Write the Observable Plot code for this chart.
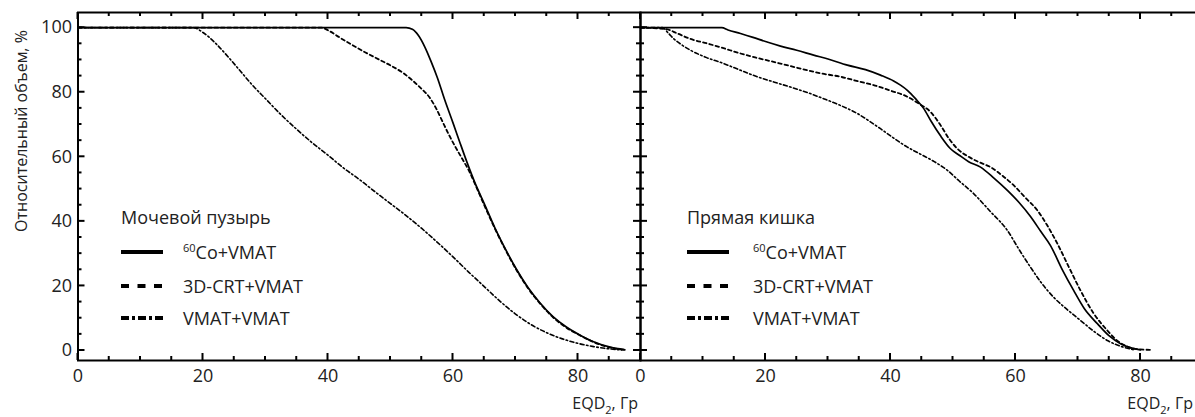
<!DOCTYPE html>
<html><head><meta charset="utf-8">
<script src="https://cdn.jsdelivr.net/npm/d3@7"></script>
<script src="https://cdn.jsdelivr.net/npm/@observablehq/plot@0.6"></script>
<style>
body{margin:0;background:#fff;overflow:hidden}
#wrap{position:relative;width:1195px;height:417px;overflow:hidden;font-family:"Open Sans",sans-serif;color:#222}
.abs{position:absolute;white-space:nowrap;line-height:20px}
.leg{font-size:18px}
sup{font-size:11px;vertical-align:0;position:relative;top:-7px}
sub{font-size:11px;vertical-align:0;position:relative;top:5px}
</style></head><body><div id="wrap"></div>
<script>
// ---- data ----
const seriesNames = ["60Co+VMAT", "3D-CRT+VMAT", "VMAT+VMAT"];
const panelTitles = ["Мочевой пузырь", "Прямая кишка"];
const xTickLabels = [0, 20, 40, 60, 80];
const yTickLabels = [0, 20, 40, 60, 80, 100];

const bladderCo = [[0,100],[52.5,100],[53.5,99.5],[54.5,97.5],[55.5,94],[56.5,89.5],[57.5,84.5],[58.7,77.5],[60,70.5],[61,65],[62.2,58.5],[63.5,52],[65,45.5],[66.7,38],[68.5,31],[70.2,25],[72,19.5],[73.9,14.8],[76,10.5],[78.2,7.2],[80.5,4.6],[82.5,2.7],[85,1.1],[87.5,0.2]];
const bladderCRT = [[0,100],[39,100],[40,99.2],[42,96.8],[44,94.5],[46,92.3],[48.3,90],[50,88.3],[52,86],[53.6,83.5],[55,81],[56.2,78.5],[57.3,75],[58.3,71],[59.3,67],[60.4,63],[61.5,59.3],[62.6,55.5],[63.6,51.2],[65,45],[66.7,37.8],[68.5,30.8],[70.2,24.8],[72,19.3],[73.9,14.6],[76,10.3],[78.2,7],[80.5,4.5],[82.5,2.6],[85,1],[87.5,0.2]];
const bladderVMAT = [[0,100],[18.5,100],[20,98.5],[22,95.2],[24,91],[26,86.5],[28,82],[30,78],[32.5,73],[35,68.5],[37.5,64.3],[40,60.5],[42.5,56.5],[45,53],[47.5,49.2],[50,45.5],[52.5,41.8],[55,37.8],[57.5,33.5],[60,29],[62.5,24.3],[65,19.8],[67.5,15.3],[70,11.3],[72.5,8],[75,5.5],[77.5,3.6],[80,2.2],[82.5,1.2],[85,0.5],[87,0.2]];

const rectumCo = [[0,100],[13,100],[14,99.3],[16,98.2],[18,97],[20,95.7],[22.4,94.3],[25,93],[27.7,91.5],[30,90.3],[33.1,88.4],[36,87],[38.4,85.3],[40.5,83.5],[41.6,82.2],[42.7,80.6],[44,78],[45.3,75],[46.5,71],[48,66.5],[49.6,62.5],[51,60.5],[52.5,58.5],[54.4,56.8],[56.5,53.5],[58.7,49.6],[60.5,46],[62.4,41.5],[64,37],[65.6,32.5],[67.5,25],[69.3,18.6],[71,13],[73.1,8.3],[75,4.5],[76.8,2.1],[78.5,0.8],[80,0.2]];
const rectumCRT = [[0,100],[4,99.6],[5.9,98.2],[8,96.5],[10.7,95.1],[13,93.8],[16,92],[18.5,90.7],[21.3,89.4],[24,88.1],[26.7,86.8],[29,85.8],[32,84.8],[35,83.3],[37.3,82.2],[40,80.5],[42.7,78.6],[44.5,76.5],[46.4,73.9],[48,69.8],[49.4,65.5],[50.7,62.5],[52.5,60],[54,58.5],[56,56.8],[58,54],[59.7,51.2],[61.5,47.5],[63.5,43.4],[65,39],[66.7,33.1],[68.5,26],[70.4,18.6],[72.5,11.5],[74.7,6.2],[76.3,3],[77.9,1.2],[79.5,0.4],[81.6,0.2]];
const rectumVMAT = [[0,100],[3.5,100],[4.5,98.2],[5.3,96.6],[6.5,94.8],[8,93],[10.5,90.8],[13.3,88.9],[16,86.8],[18.7,84.8],[21.3,83.2],[24,81.6],[26.7,79.9],[29.3,78],[32,75.9],[34.7,73.4],[36.5,71.2],[38.4,68.7],[40.5,65.8],[42.7,63],[45,60.6],[47,58.5],[49.1,55.8],[51,52.5],[53.3,48.6],[56,43],[58.7,37.2],[60.5,31.5],[62.4,25.8],[64.2,20.8],[66.1,16.5],[68.2,12.8],[70.4,9.3],[72.5,6],[74.7,3.1],[77,1.2],[79,0.2]];

// ---- layout ----
const xDom = [0, 90], yDom = [-3.1, 104.7];
const H = 417, MT = 12, MB = 57;
const styles = [
  {strokeDasharray: null, strokeWidth: 1.7},
  {strokeDasharray: "3.5,3", strokeWidth: 1.8},
  {strokeDasharray: "4,2.5,1.5,2.5", strokeWidth: 1.6}
];

function panel(curves, {width, marginLeft, showY, bothSide}) {
  const lines = [2, 1, 0].map(i => Plot.line(curves[i], {
    x: d => d[0], y: d => d[1], stroke: "#000", curve: "monotone-x",
    strokeWidth: styles[i].strokeWidth, strokeDasharray: styles[i].strokeDasharray
  }));
  const p = Plot.plot({
    width, height: H, marginLeft, marginRight: 0, marginTop: MT, marginBottom: MB,
    style: {background: "transparent", fontSize: "18px", fontFamily: "Open Sans", color: "#222", overflow: "visible"},
    x: {domain: xDom, ticks: xTickLabels.length, tickSize: 0, tickPadding: 9, label: null},
    y: showY ? {domain: yDom, ticks: yTickLabels.length - 1, tickSize: 0, tickPadding: 6, label: null}
             : {domain: yDom, axis: null},
    marks: [
      Plot.frame({stroke: "#000", strokeWidth: 2}),
      ...lines
    ]
  });
  // inward minor/major ticks, positioned through the plot's own scales
  const sx = p.scale("x"), sy = p.scale("y");
  const len = v => (v % 20 === 0 ? 7 : 4);
  const g = d3.select(p).append("g").attr("stroke", "#000").attr("stroke-width", 2);
  const yb = sy.apply(yDom[0]), yt = sy.apply(yDom[1]), x0 = sx.apply(0);
  for (const v of d3.range(0, 91, 5)) {
    const x = sx.apply(v);
    g.append("line").attr("x1", x).attr("x2", x).attr("y1", yb).attr("y2", yb - len(v));
    g.append("line").attr("x1", x).attr("x2", x).attr("y1", yt).attr("y2", yt + len(v));
  }
  for (const v of d3.range(0, 101, 5)) {
    const y = sy.apply(v);
    g.append("line").attr("x1", bothSide ? x0 - len(v) : x0).attr("x2", x0 + len(v)).attr("y1", y).attr("y2", y);
  }
  return p;
}

const wrap = document.getElementById("wrap");
const left = panel([bladderCo, bladderCRT, bladderVMAT], {width: 640, marginLeft: 77.5, showY: true, bothSide: false});
left.style.position = "absolute"; left.style.left = "0px"; left.style.top = "0px";
wrap.appendChild(left);
const right = panel([rectumCo, rectumCRT, rectumVMAT], {width: 642.5, marginLeft: 80, showY: false, bothSide: true});
right.style.position = "absolute"; right.style.left = "560px"; right.style.top = "0px";
wrap.appendChild(right);

function addDiv(html, css, cls = "abs") {
  const d = document.createElement("div");
  d.className = cls; d.innerHTML = html; Object.assign(d.style, css); wrap.appendChild(d); return d;
}
// axis titles
addDiv("Относительный объем, %", {left: "21px", top: "131px", fontSize: "16px", transform: "translate(-50%,-50%) rotate(-90deg)"});
addDiv("EQD<sub>2</sub>, Гр", {right: (1195 - 638) + "px", top: "393px", fontSize: "16px"});
addDiv("EQD<sub>2</sub>, Гр", {right: "2px", top: "393px", fontSize: "16px"});

// legends
const legDash = [null, "8,8.5", "8,3,3,3"];
function legend(title, x0, xt) {
  addDiv(title, {left: x0 + "px", top: "207px"}, "abs leg");
  const ys = [252, 286, 318];
  seriesNames.forEach((name, i) => {
    const s = document.createElementNS("http://www.w3.org/2000/svg", "svg");
    s.setAttribute("width", 44); s.setAttribute("height", 8);
    Object.assign(s.style, {position: "absolute", left: x0 + "px", top: (ys[i] - 4) + "px"});
    const l = document.createElementNS("http://www.w3.org/2000/svg", "line");
    l.setAttribute("x1", 0); l.setAttribute("x2", 42); l.setAttribute("y1", 4); l.setAttribute("y2", 4);
    l.setAttribute("stroke", "#000"); l.setAttribute("stroke-width", 4);
    if (legDash[i]) l.setAttribute("stroke-dasharray", legDash[i]);
    s.appendChild(l); wrap.appendChild(s);
    const label = i === 0 ? "<sup>60</sup>Co+VMAT" : name;
    addDiv(label, {left: xt + "px", top: (ys[i] - 10) + "px"}, "abs leg");
  });
}
legend(panelTitles[0], 121, 183);
legend(panelTitles[1], 687, 753);
</script></body></html>
